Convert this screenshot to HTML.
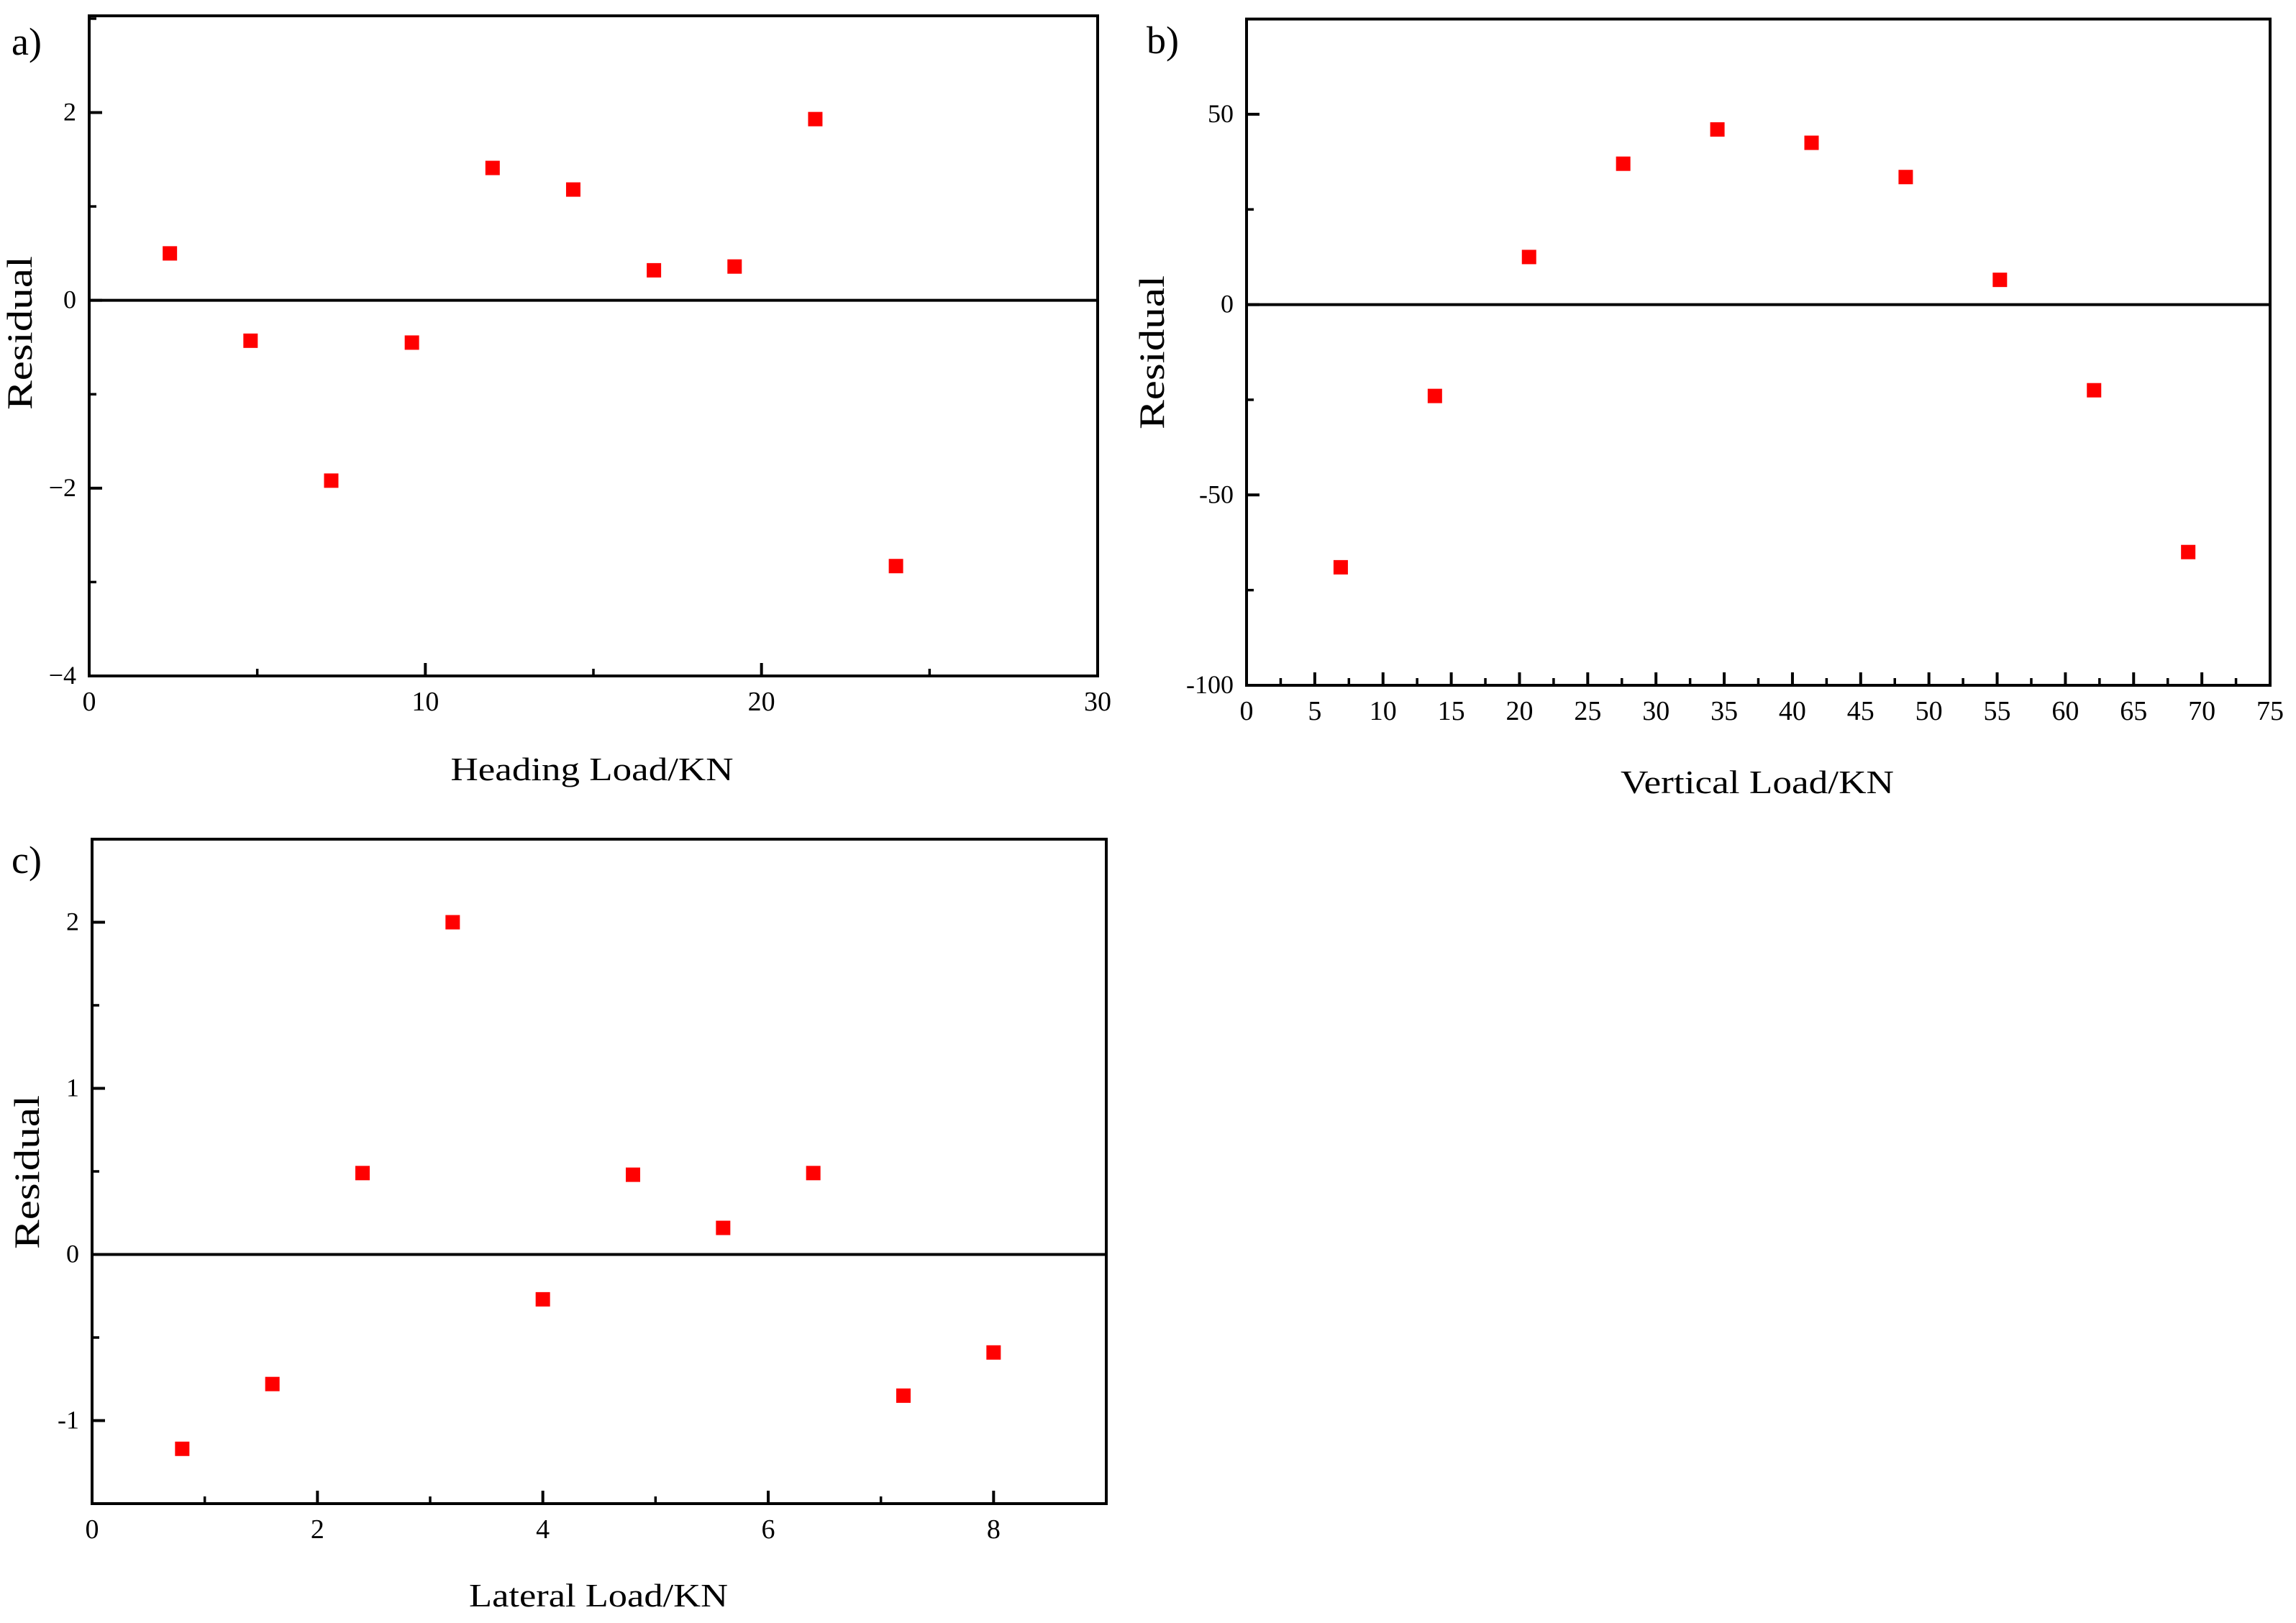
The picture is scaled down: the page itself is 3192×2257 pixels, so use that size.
<!DOCTYPE html>
<html><head><meta charset="utf-8"><style>
html,body{margin:0;padding:0;background:#fff;}
svg{display:block;font-family:"Liberation Serif",serif;}
</style></head>
<body>
<svg id="fig" width="3192" height="2257" viewBox="0 0 3192 2257" xmlns="http://www.w3.org/2000/svg"></svg>
<script>
const NS="http://www.w3.org/2000/svg";
const svg=document.getElementById('fig');

// Panel a data
const aX=[2.4,4.8,7.2,9.6,12,14.4,16.8,19.2,21.6,24];
const aY=[0.5,-0.43,-1.92,-0.45,1.41,1.18,0.32,0.36,1.93,-2.83];
const aXTicks=[0,10,20,30];
const aYTicks=[-4,-2,0,2];
const aYTickLabels=["\u22124","\u22122","0","2"];
// Panel b data
const bX=[6.9,13.8,20.7,27.6,34.5,41.4,48.3,55.2,62.1,69];
const bY=[-69,-24,12.5,37,46,42.5,33.5,6.5,-22.5,-65];
const bXTicks=[0,5,10,15,20,25,30,35,40,45,50,55,60,65,70,75];
const bYTicks=[-100,-50,0,50];
const bYTickLabels=["-100","-50","0","50"];
// Panel c data
const cX=[0.8,1.6,2.4,3.2,4.0,4.8,5.6,6.4,7.2,8.0];
const cY=[-1.17,-0.78,0.49,2.0,-0.27,0.48,0.16,0.49,-0.85,-0.59];
const cXTicks=[0,2,4,6,8];
const cYTicks=[-1,0,1,2];
const cYTickLabels=["-1","0","1","2"];

function mk(tag,attrs,parent){const e=document.createElementNS(NS,tag);for(const k in attrs)e.setAttribute(k,attrs[k]);(parent||svg).appendChild(e);return e;}

function panel(p){
  const g=mk('g',{});
  
  
  const sx=v=>p.L+(v-p.x0)/(p.x1-p.x0)*(p.R-p.L);
  const sy=v=>p.B-(v-p.y0)/(p.y1-p.y0)*(p.B-p.T);
  const frame=mk('rect',{x:p.L,y:p.T,width:p.R-p.L,height:p.B-p.T,fill:'none',stroke:'#000','stroke-width':4},g);
  
  
  const zl=mk('line',{x1:p.L,x2:p.R,y1:sy(0),y2:sy(0),stroke:'#000','stroke-width':4},g);
  
  
  p.xTicks.forEach((v,i)=>{
    const t=mk('line',{x1:sx(v),x2:sx(v),y1:p.B,y2:p.B-18,stroke:'#000','stroke-width':4},g);
    
    
    const tx=mk('text',{x:sx(v),y:p.B+48,'font-size':38,'text-anchor':'middle'},g);
    tx.textContent=String(v);
    
    
  });
  for(let v=p.x0+p.xMinor;v<p.x1;v+=p.xMinor){
    if(p.xTicks.some(t=>Math.abs(t-v)<1e-6))continue;
    const t=mk('line',{x1:sx(v),x2:sx(v),y1:p.B,y2:p.B-10,stroke:'#000','stroke-width':3.5},g);
    
    
  }
  p.yTicks.forEach((v,i)=>{
    const t=mk('line',{x1:p.L,x2:p.L+18,y1:sy(v),y2:sy(v),stroke:'#000','stroke-width':4},g);
    
    
    const tx=mk('text',{x:p.L-18,y:sy(v)+11,'font-size':36,'text-anchor':'end'},g);
    tx.textContent=p.yLabels[i];
    
    
  });
  for(let v=p.y0+p.yMinor;v<p.y1;v+=p.yMinor){
    if(p.yTicks.some(t=>Math.abs(t-v)<1e-6))continue;
    const t=mk('line',{x1:p.L,x2:p.L+10,y1:sy(v),y2:sy(v),stroke:'#000','stroke-width':3.5},g);
    
    
  }
  p.xs.forEach((x,i)=>{
    const r=mk('rect',{x:sx(x)-10,y:sy(p.ys[i])-10,width:20,height:20,fill:'#ff0000'},g);
    
    
  });
  const xt=mk('text',{x:p.xtX,y:p.xtY,'font-size':46,'text-anchor':'middle',textLength:p.xtLen,lengthAdjust:'spacingAndGlyphs'},g);
  xt.textContent=p.xTitle;
  
  
  const yt=mk('text',{x:0,y:0,'font-size':50,'text-anchor':'middle',textLength:214,lengthAdjust:'spacingAndGlyphs',transform:`translate(${p.ytX},${p.ytY}) rotate(-90)`},g);
  yt.textContent='Residual';
  
  
  const pl=mk('text',{x:p.plX,y:p.plY,'font-size':54},g);
  pl.textContent=p.label;
  
  
}

panel({name:'panel-a-heading',L:124,R:1526,T:22,B:940,x0:0,x1:30,y0:-4,y1:3.03,
  xTicks:aXTicks,xMinor:5,yTicks:aYTicks,yLabels:aYTickLabels,yMinor:1,xs:aX,ys:aY,
  xTitle:'Heading Load/KN',xtX:823,xtY:1085,xtLen:393,ytX:44,ytY:463,plX:16,plY:76,label:'a)'});
panel({name:'panel-b-vertical',L:1733,R:3156,T:26.5,B:953,x0:0,x1:75,y0:-100,y1:75,
  xTicks:bXTicks,xMinor:2.5,yTicks:bYTicks,yLabels:bYTickLabels,yMinor:25,xs:bX,ys:bY,
  xTitle:'Vertical Load/KN',xtX:2443,xtY:1103,xtLen:380,ytX:1618,ytY:490,plX:1594,plY:74,label:'b)'});
panel({name:'panel-c-lateral',L:128,R:1538,T:1167,B:2091,x0:0,x1:9,y0:-1.5,y1:2.5,
  xTicks:cXTicks,xMinor:1,yTicks:cYTicks,yLabels:cYTickLabels,yMinor:0.5,xs:cX,ys:cY,
  xTitle:'Lateral Load/KN',xtX:832,xtY:2234,xtLen:360,ytX:54,ytY:1630,plX:16,plY:1214,label:'c)'});
</script>
</body></html>
